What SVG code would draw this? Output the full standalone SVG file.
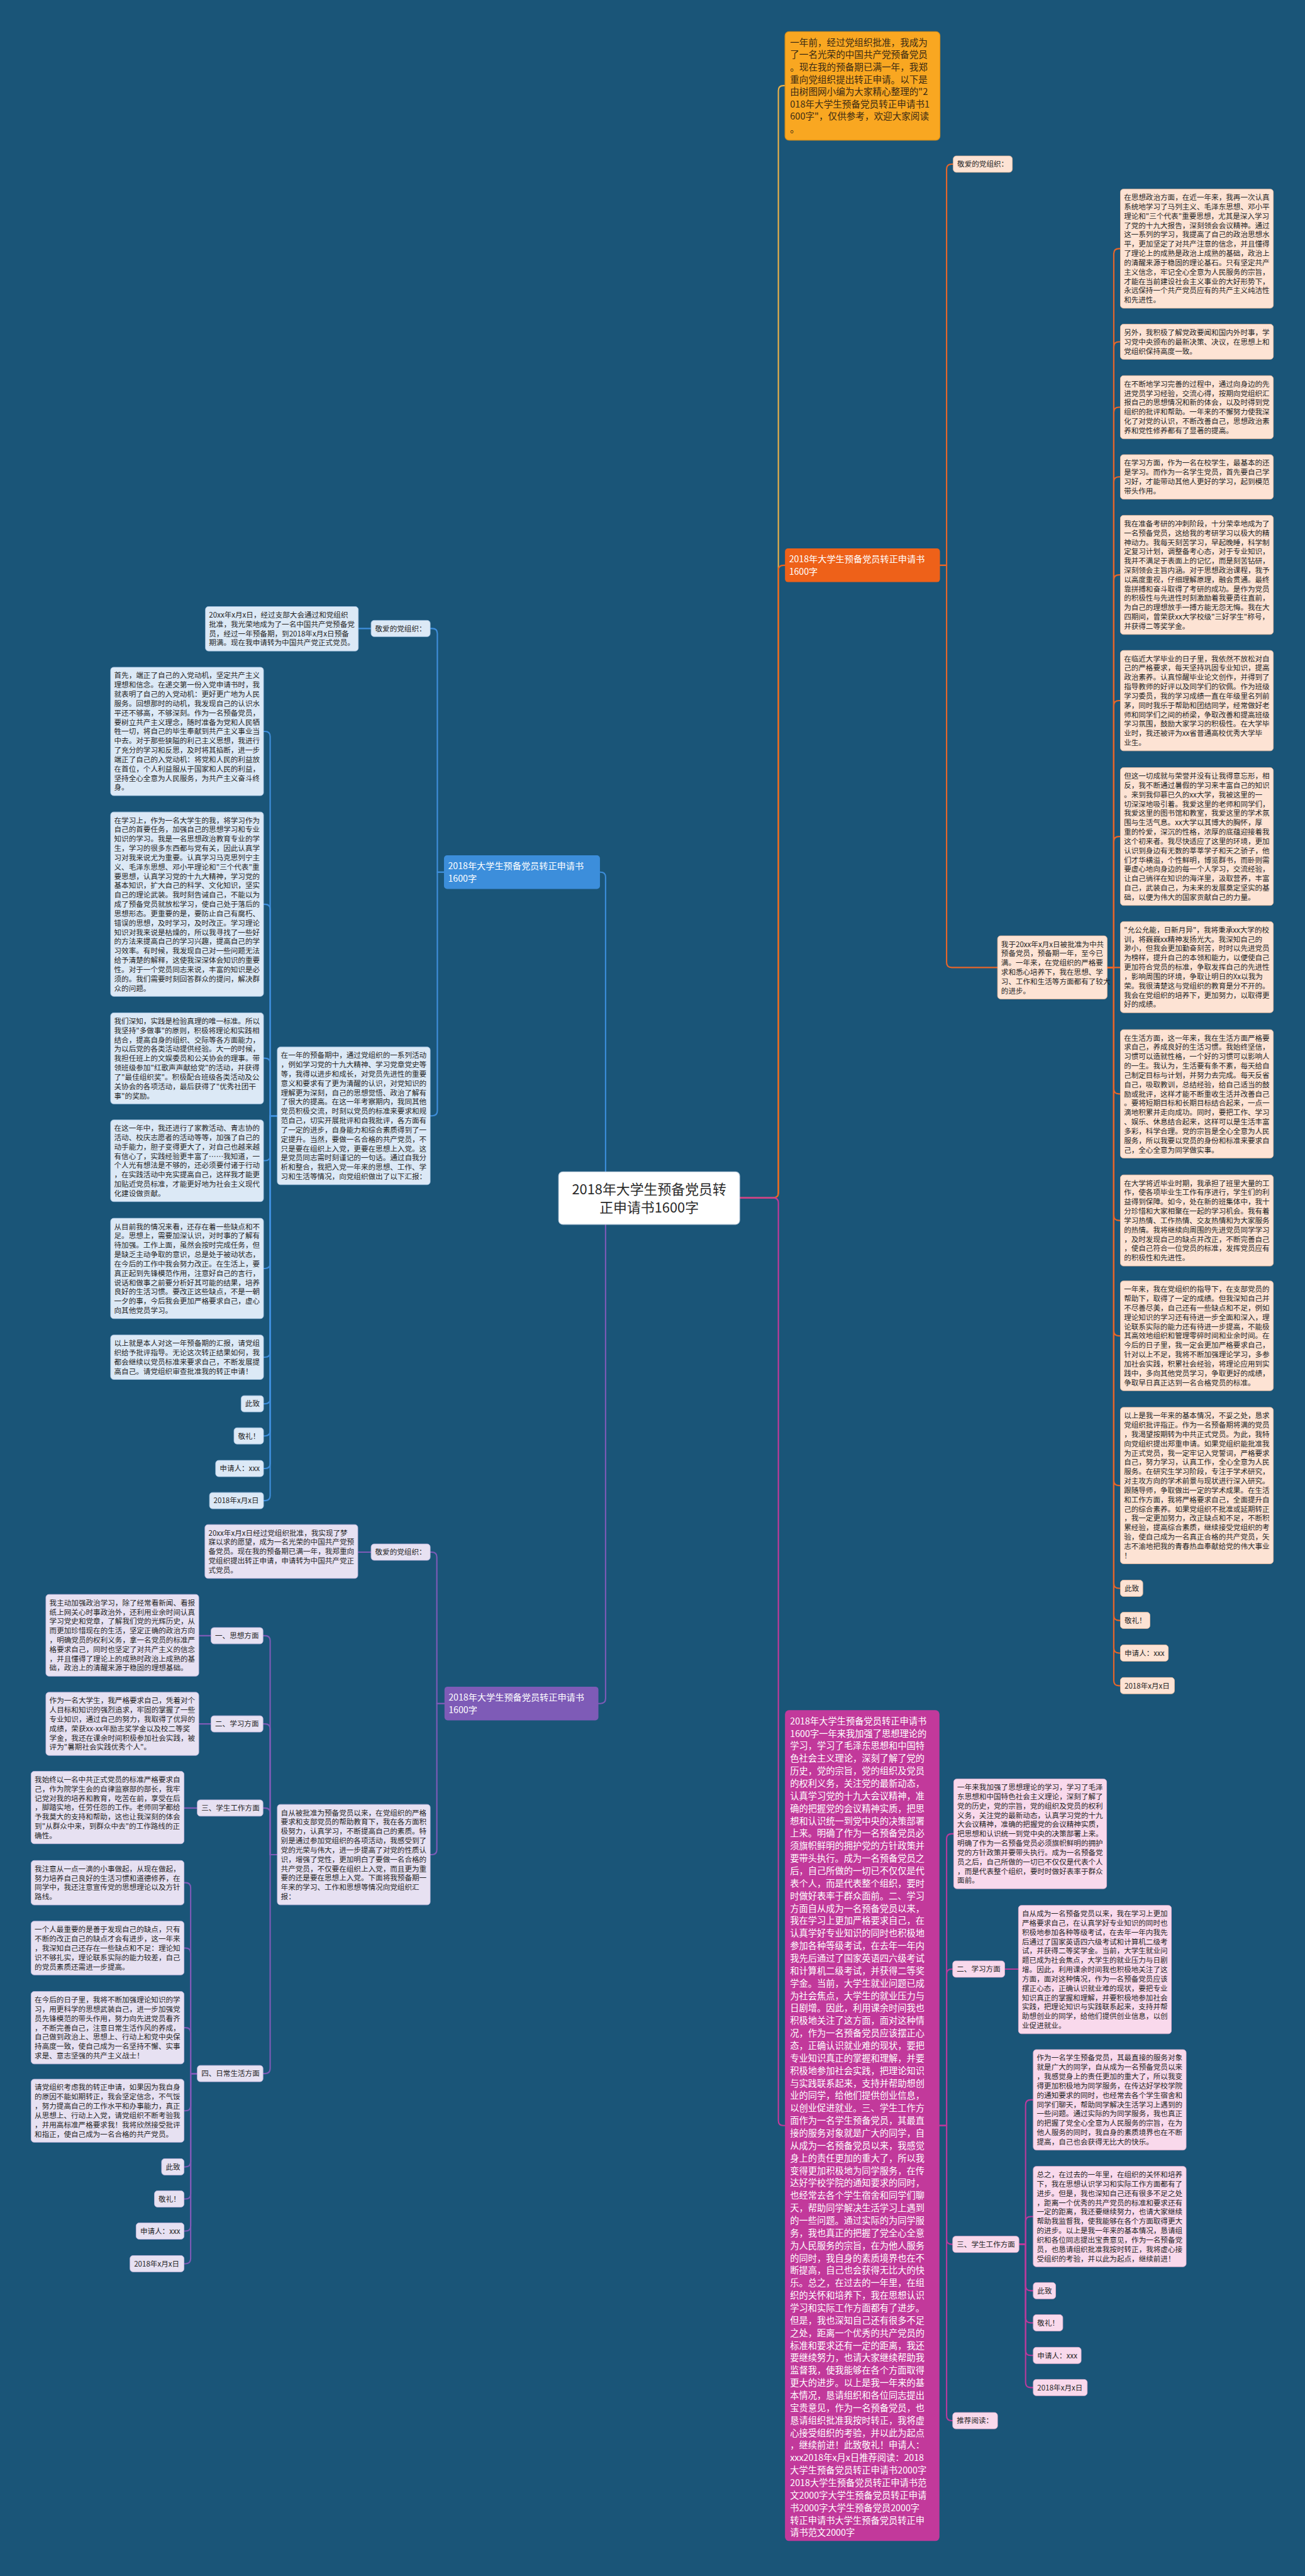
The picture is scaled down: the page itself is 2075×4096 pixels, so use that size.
<svg xmlns="http://www.w3.org/2000/svg" width="2075" height="4096" viewBox="0 0 2075 4096">
<style>
.t{font-family:"Noto Sans CJK SC","Noto Sans",sans-serif;font-size:14.3px;fill:#262626}
.tw{font-family:"Noto Sans CJK SC","Noto Sans",sans-serif;fill:#ffffff}
.nb{fill:#dce9f6;stroke:#aac6e4;stroke-width:1}
.no{fill:#fde3d4;stroke:#efbd9f;stroke-width:1}
.np{fill:#e7e1f2;stroke:#c5b8e0;stroke-width:1}
.nk{fill:#f9d9ec;stroke:#e2b0cf;stroke-width:1}
.c{fill:none;stroke-width:2.6;stroke-linecap:round;stroke-linejoin:round}
.cb{stroke:#3f8fdc}.co{stroke:#e8662a}.cp{stroke:#7e5bb7}.ck{stroke:#b93a9c}
</style>
<rect x="0" y="0" width="2075" height="4096" fill="#1a5578"/>
<g transform="scale(0.8105)">
<g id="connectors">
<path class="c" stroke="#e9b04a" d="M1451,2350 H1517 Q1527,2350 1527,2340 V178 Q1527,168 1537,168 H1540"/>
<path class="c" stroke="#ee6119" d="M1451,2350 H1517 Q1527,2350 1527,2340 V1119 Q1527,1109 1537,1109 H1540"/>
<path class="c" stroke="#c2399b" d="M1451,2350 H1517 Q1527,2350 1527,2360 V4160 Q1527,4170 1537,4170 H1540"/>
<path class="c" stroke="#3c8edb" d="M1188,2299 V1721 Q1188,1711 1178,1711 H1177"/>
<path class="c" stroke="#7e5bb7" d="M1188,2402 V3332 Q1188,3342 1178,3342 H1174"/>
<g class="c co">
<path d="M1844,1109 H1857 V332 Q1857,322 1867,322 H1870"/>
<path d="M1844,1109 H1857 V1888 Q1857,1898 1867,1898 H1957"/>
<path d="M2172,1898 H2185 V497.8 Q2185,487.8 2195,487.8 H2198"/>
<path d="M2172,1898 H2185 V680.5 Q2185,670.5 2195,670.5 H2198"/>
<path d="M2172,1898 H2185 V808.9 Q2185,798.9 2195,798.9 H2198"/>
<path d="M2172,1898 H2185 V945.6 Q2185,935.6 2195,935.6 H2198"/>
<path d="M2172,1898 H2185 V1137.8 Q2185,1127.8 2195,1127.8 H2198"/>
<path d="M2172,1898 H2185 V1384.5 Q2185,1374.5 2195,1374.5 H2198"/>
<path d="M2172,1898 H2185 V1651.1 Q2185,1641.1 2195,1641.1 H2198"/>
<path d="M2172,1898 H2198"/>
<path d="M2172,1898 H2185 V2136 Q2185,2146 2195,2146 H2198"/>
<path d="M2172,1898 H2185 V2384.4 Q2185,2394.4 2195,2394.4 H2198"/>
<path d="M2172,1898 H2185 V2610.7 Q2185,2620.7 2195,2620.7 H2198"/>
<path d="M2172,1898 H2185 V2904.4 Q2185,2914.4 2195,2914.4 H2198"/>
<path d="M2172,1898 H2185 V3106 Q2185,3116 2195,3116 H2198"/>
<path d="M2172,1898 H2185 V3169 Q2185,3179 2195,3179 H2198"/>
<path d="M2172,1898 H2185 V3233 Q2185,3243 2195,3243 H2198"/>
<path d="M2172,1898 H2185 V3297 Q2185,3307 2195,3307 H2198"/>
</g>
<g class="c cb">
<path d="M871,1711 H858 V1243 Q858,1233 848,1233 H844"/>
<path d="M871,1711 H858 V2179 Q858,2189 848,2189 H844"/>
<path d="M728,1233 H703"/>
<path d="M544,2189 H530 V1445 Q530,1435 520,1435 H517"/>
<path d="M544,2189 H530 V1784 Q530,1774 520,1774 H517"/>
<path d="M544,2189 H530 V2086 Q530,2076 520,2076 H517"/>
<path d="M544,2189 H530 V2267 Q530,2277 520,2277 H517"/>
<path d="M544,2189 H530 V2478.5 Q530,2488.5 520,2488.5 H517"/>
<path d="M544,2189 H530 V2652.6 Q530,2662.6 520,2662.6 H517"/>
<path d="M544,2189 H530 V2744 Q530,2754 520,2754 H517"/>
<path d="M544,2189 H530 V2807 Q530,2817 520,2817 H517"/>
<path d="M544,2189 H530 V2871 Q530,2881 520,2881 H517"/>
<path d="M544,2189 H530 V2934 Q530,2944 520,2944 H517"/>
</g>
<g class="c cp">
<path d="M872,3342 H857 V3055 Q857,3045 847,3045 H844"/>
<path d="M872,3342 H857 V3628.5 Q857,3638.5 847,3638.5 H844"/>
<path d="M728,3045 H702"/>
<path d="M544,3638.5 H530 V3219 Q530,3209 520,3209 H516"/>
<path d="M544,3638.5 H530 V3392 Q530,3382 520,3382 H516"/>
<path d="M544,3638.5 H530 V3557 Q530,3547 520,3547 H516"/>
<path d="M544,3638.5 H530 V4058 Q530,4068 520,4068 H516"/>
<path d="M414,3209 H390"/>
<path d="M414,3382 H390"/>
<path d="M387,3547 H361"/>
<path d="M387,4068 H374 V3703.6 Q374,3693.6 364,3693.6 H361"/>
<path d="M387,4068 H374 V3831.8 Q374,3821.8 364,3821.8 H361"/>
<path d="M387,4068 H374 V3988 Q374,3978 364,3978 H361"/>
<path d="M387,4068 H374 V4131 Q374,4141 364,4141 H361"/>
<path d="M387,4068 H374 V4241 Q374,4251 364,4251 H361"/>
<path d="M387,4068 H374 V4304 Q374,4314 364,4314 H361"/>
<path d="M387,4068 H374 V4367 Q374,4377 364,4377 H361"/>
<path d="M387,4068 H374 V4431 Q374,4441 364,4441 H361"/>
</g>
<g class="c ck">
<path d="M1843,4170 H1857 V3607.6 Q1857,3597.6 1867,3597.6 H1871"/>
<path d="M1843,4170 H1857 V3873 Q1857,3863 1867,3863 H1869"/>
<path d="M1843,4170 H1857 V4393 Q1857,4403 1867,4403 H1869"/>
<path d="M1843,4170 H1857 V4739 Q1857,4749 1867,4749 H1869"/>
<path d="M1971,3863 H1998"/>
<path d="M1999,4403 H2012 V4129.5 Q2012,4119.5 2022,4119.5 H2027"/>
<path d="M1999,4403 H2012 V4358.5 Q2012,4348.5 2022,4348.5 H2027"/>
<path d="M1999,4403 H2012 V4484 Q2012,4494 2022,4494 H2027"/>
<path d="M1999,4403 H2012 V4547 Q2012,4557 2022,4557 H2027"/>
<path d="M1999,4403 H2012 V4611 Q2012,4621 2022,4621 H2027"/>
<path d="M1999,4403 H2012 V4674 Q2012,4684 2022,4684 H2027"/>
</g>
</g>

<g id="root">
<rect x="1096" y="2299" width="355" height="103" rx="8" fill="#ffffff" stroke="#c9d6e3" stroke-width="1.5"/>
<text class="t" style="font-size:27px;fill:#2b2b2b" text-anchor="middle" x="1273.5" y="2343"><tspan x="1273.5" dy="0">2018年大学生预备党员转</tspan><tspan x="1273.5" dy="36">正申请书1600字</tspan></text>
</g>

<g id="intro">
<rect x="1540" y="62" width="304" height="213" rx="8" fill="#f9a721" stroke="#d98e16" stroke-width="1.5"/>
<text class="t" style="font-size:18px;fill:#3a2a14" x="1550" y="89.8"><tspan x="1550" dy="0">一年前，经过党组织批准，我成为</tspan><tspan x="1550" dy="24.2">了一名光荣的中国共产党预备党员</tspan><tspan x="1550" dy="24.2">。现在我的预备期已满一年，我郑</tspan><tspan x="1550" dy="24.2">重向党组织提出转正申请。以下是</tspan><tspan x="1550" dy="24.2">由树图网小编为大家精心整理的"2</tspan><tspan x="1550" dy="24.2">018年大学生预备党员转正申请书1</tspan><tspan x="1550" dy="24.2">600字"，仅供参考，欢迎大家阅读</tspan><tspan x="1550" dy="24.2">。</tspan></text>
</g>

<g id="branch-orange">
<rect x="1540" y="1076" width="304" height="66" rx="6" fill="#ee6119"/>
<text class="tw" style="font-size:17.5px" x="1548" y="1103.6"><tspan x="1548" dy="0">2018年大学生预备党员转正申请书</tspan><tspan x="1548" dy="24">1600字</tspan></text>
</g>
<g id="o-dear">
<rect class="no" x="1870" y="306" width="116" height="32" rx="6"/>
<text class="t" x="1878" y="327.4">敬爱的党组织：</text>
</g>
<g id="o-mid">
<rect class="no" x="1957" y="1836" width="215" height="123.8" rx="6"/>
<text class="t" x="1964" y="1857.5"><tspan x="1964" dy="0">我于20xx年x月x日被批准为中共</tspan><tspan x="1964" dy="18.3">预备党员，预备期一年，至今已</tspan><tspan x="1964" dy="18.3">满。一年来，在党组织的严格要</tspan><tspan x="1964" dy="18.3">求和悉心培养下，我在思想、学</tspan><tspan x="1964" dy="18.3">习、工作和生活等方面都有了较大</tspan><tspan x="1964" dy="18.3">的进步。</tspan></text>
</g>
<g id="o-a">
<rect class="no" x="2198" y="371" width="300" height="233.6" rx="6"/>
<text class="t" x="2205" y="392.5"><tspan x="2205" dy="0">在思想政治方面，在近一年来，我再一次认真</tspan><tspan x="2205" dy="18.3">系统地学习了马列主义、毛泽东思想、邓小平</tspan><tspan x="2205" dy="18.3">理论和"三个代表"重要思想，尤其是深入学习</tspan><tspan x="2205" dy="18.3">了党的十九大报告，深刻领会会议精神。通过</tspan><tspan x="2205" dy="18.3">这一系列的学习，我提高了自己的政治思想水</tspan><tspan x="2205" dy="18.3">平，更加坚定了对共产注意的信念，并且懂得</tspan><tspan x="2205" dy="18.3">了理论上的成熟是政治上成熟的基础，政治上</tspan><tspan x="2205" dy="18.3">的清醒来源于稳固的理论基石。只有坚定共产</tspan><tspan x="2205" dy="18.3">主义信念，牢记全心全意为人民服务的宗旨，</tspan><tspan x="2205" dy="18.3">才能在当前建设社会主义事业的大好形势下，</tspan><tspan x="2205" dy="18.3">永远保持一个共产党员应有的共产主义纯洁性</tspan><tspan x="2205" dy="18.3">和先进性。</tspan></text>
</g>
<g id="o-b">
<rect class="no" x="2198" y="636" width="300" height="68.9" rx="6"/>
<text class="t" x="2205" y="657.5"><tspan x="2205" dy="0">另外，我积极了解党政要闻和国内外时事，学</tspan><tspan x="2205" dy="18.3">习党中央颁布的最新决策、决议，在思想上和</tspan><tspan x="2205" dy="18.3">党组织保持高度一致。</tspan></text>
</g>
<g id="o-c">
<rect class="no" x="2198" y="737" width="300" height="123.8" rx="6"/>
<text class="t" x="2205" y="758.5"><tspan x="2205" dy="0">在不断地学习完善的过程中，通过向身边的先</tspan><tspan x="2205" dy="18.3">进党员学习经验，交流心得，按期向党组织汇</tspan><tspan x="2205" dy="18.3">报自己的思想情况和新的体会，以及时得到党</tspan><tspan x="2205" dy="18.3">组织的批评和帮助。一年来的不懈努力使我深</tspan><tspan x="2205" dy="18.3">化了对党的认识，不断改善自己，思想政治素</tspan><tspan x="2205" dy="18.3">养和党性修养都有了显著的提高。</tspan></text>
</g>
<g id="o-d">
<rect class="no" x="2198" y="892" width="300" height="87.2" rx="6"/>
<text class="t" x="2205" y="913.5"><tspan x="2205" dy="0">在学习方面，作为一名在校学生，最基本的还</tspan><tspan x="2205" dy="18.3">是学习。而作为一名学生党员，首先要自己学</tspan><tspan x="2205" dy="18.3">习好，才能带动其他人更好的学习，起到模范</tspan><tspan x="2205" dy="18.3">带头作用。</tspan></text>
</g>
<g id="o-e">
<rect class="no" x="2198" y="1011" width="300" height="233.6" rx="6"/>
<text class="t" x="2205" y="1032.5"><tspan x="2205" dy="0">我在准备考研的冲刺阶段，十分荣幸地成为了</tspan><tspan x="2205" dy="18.3">一名预备党员，这给我的考研学习以极大的精</tspan><tspan x="2205" dy="18.3">神动力。我每天刻苦学习，早起晚睡，科学制</tspan><tspan x="2205" dy="18.3">定复习计划，调整备考心态，对于专业知识，</tspan><tspan x="2205" dy="18.3">我并不满足于表面上的记忆，而是刻苦钻研，</tspan><tspan x="2205" dy="18.3">深刻领会主旨内涵。对于思想政治课程，我予</tspan><tspan x="2205" dy="18.3">以高度重视，仔细理解原理，融会贯通。最终</tspan><tspan x="2205" dy="18.3">靠拼搏和奋斗取得了考研的成功。是作为党员</tspan><tspan x="2205" dy="18.3">的积极性与先进性时刻激励着我要勇往直前，</tspan><tspan x="2205" dy="18.3">为自己的理想放手一搏方能无怨无悔。我在大</tspan><tspan x="2205" dy="18.3">四期间，曾荣获xx大学校级"三好学生"称号，</tspan><tspan x="2205" dy="18.3">并获得二等奖学金。</tspan></text>
</g>
<g id="o-f">
<rect class="no" x="2198" y="1276" width="300" height="197" rx="6"/>
<text class="t" x="2205" y="1297.5"><tspan x="2205" dy="0">在临近大学毕业的日子里，我依然不放松对自</tspan><tspan x="2205" dy="18.3">己的严格要求，每天坚持巩固专业知识，提高</tspan><tspan x="2205" dy="18.3">政治素养。认真惊醒毕业论文创作，并得到了</tspan><tspan x="2205" dy="18.3">指导教师的好评以及同学们的钦佩。作为班级</tspan><tspan x="2205" dy="18.3">学习委员，我的学习成绩一直在年级里名列前</tspan><tspan x="2205" dy="18.3">茅，同时我乐于帮助和团结同学，经常做好老</tspan><tspan x="2205" dy="18.3">师和同学们之间的桥梁，争取改善和提高班级</tspan><tspan x="2205" dy="18.3">学习氛围，鼓励大家学习的积极性。在大学毕</tspan><tspan x="2205" dy="18.3">业时，我还被评为xx省普通高校优秀大学毕</tspan><tspan x="2205" dy="18.3">业生。</tspan></text>
</g>
<g id="o-g">
<rect class="no" x="2198" y="1506" width="300" height="270.2" rx="6"/>
<text class="t" x="2205" y="1527.5"><tspan x="2205" dy="0">但这一切成就与荣誉并没有让我得意忘形，相</tspan><tspan x="2205" dy="18.3">反，我不断通过暑假的学习来丰富自己的知识</tspan><tspan x="2205" dy="18.3">。来到我仰慕已久的xx大学，我被这里的一</tspan><tspan x="2205" dy="18.3">切深深地吸引着。我爱这里的老师和同学们，</tspan><tspan x="2205" dy="18.3">我爱这里的图书馆和教室，我爱这里的学术氛</tspan><tspan x="2205" dy="18.3">围与生活气息。xx大学以其博大的胸怀，厚</tspan><tspan x="2205" dy="18.3">重的怜爱，深沉的性格，浓厚的底蕴迎接着我</tspan><tspan x="2205" dy="18.3">这个初来者。我尽快适应了这里的环境，更加</tspan><tspan x="2205" dy="18.3">认识到身边有无数的莘莘学子和天之骄子，他</tspan><tspan x="2205" dy="18.3">们才华横溢，个性鲜明，博览群书，而卧则需</tspan><tspan x="2205" dy="18.3">要虚心地向身边的每一个人学习，交流经验，</tspan><tspan x="2205" dy="18.3">让自己徜徉在知识的海洋里，汲取营养，丰富</tspan><tspan x="2205" dy="18.3">自己，武装自己，为未来的发展奠定坚实的基</tspan><tspan x="2205" dy="18.3">础，以便为伟大的国家贡献自己的力量。</tspan></text>
</g>
<g id="o-h">
<rect class="no" x="2198" y="1808" width="300" height="178.7" rx="6"/>
<text class="t" x="2205" y="1829.5"><tspan x="2205" dy="0">"允公允能，日新月异"，我将秉承xx大学的校</tspan><tspan x="2205" dy="18.3">训，将巍巍xx精神发扬光大。我深知自己的</tspan><tspan x="2205" dy="18.3">渺小，但我会更加勤奋刻苦，时时以先进党员</tspan><tspan x="2205" dy="18.3">为榜样，提升自己的本领和能力，以便使自己</tspan><tspan x="2205" dy="18.3">更加符合党员的标准，争取发挥自己的先进性</tspan><tspan x="2205" dy="18.3">，影响周围的环境，争取让明日的Xx以我为</tspan><tspan x="2205" dy="18.3">荣。我很清楚这与党组织的教育是分不开的。</tspan><tspan x="2205" dy="18.3">我会在党组织的培养下，更加努力，以取得更</tspan><tspan x="2205" dy="18.3">好的成绩。</tspan></text>
</g>
<g id="o-i">
<rect class="no" x="2198" y="2020" width="300" height="251.9" rx="6"/>
<text class="t" x="2205" y="2041.5"><tspan x="2205" dy="0">在生活方面，这一年来，我在生活方面严格要</tspan><tspan x="2205" dy="18.3">求自己，养成良好的生活习惯。我始终坚信，</tspan><tspan x="2205" dy="18.3">习惯可以造就性格，一个好的习惯可以影响人</tspan><tspan x="2205" dy="18.3">的一生。我认为，生活要有条不紊，每天给自</tspan><tspan x="2205" dy="18.3">己制定目标与计划，并努力去完成。每天反省</tspan><tspan x="2205" dy="18.3">自己，吸取教训，总结经验，给自己适当的鼓</tspan><tspan x="2205" dy="18.3">励或批评，这样才能不断重收生活并改善自己</tspan><tspan x="2205" dy="18.3">。要将短期目标和长期目标结合起来，一点一</tspan><tspan x="2205" dy="18.3">滴地积累并走向成功。同时，要把工作、学习</tspan><tspan x="2205" dy="18.3">、娱乐、休息结合起来，这样可以是生活丰富</tspan><tspan x="2205" dy="18.3">多彩，科学合理。党的宗旨是全心全意为人民</tspan><tspan x="2205" dy="18.3">服务，所以我要以党员的身份和标准来要求自</tspan><tspan x="2205" dy="18.3">己，全心全意为同学做实事。</tspan></text>
</g>
<g id="o-j">
<rect class="no" x="2198" y="2305" width="300" height="178.7" rx="6"/>
<text class="t" x="2205" y="2326.5"><tspan x="2205" dy="0">在大学将近毕业时期，我承担了班里大量的工</tspan><tspan x="2205" dy="18.3">作，使各项毕业生工作有序进行，学生们的利</tspan><tspan x="2205" dy="18.3">益得到保障。如今，处在新的班集体中，我十</tspan><tspan x="2205" dy="18.3">分珍惜和大家相聚在一起的学习机会。我有着</tspan><tspan x="2205" dy="18.3">学习热情、工作热情、交友热情和为大家服务</tspan><tspan x="2205" dy="18.3">的热情。我将继续向周围的先进党员同学学习</tspan><tspan x="2205" dy="18.3">，及时发现自己的缺点并改正，不断完善自己</tspan><tspan x="2205" dy="18.3">，使自己符合一位党员的标准，发挥党员应有</tspan><tspan x="2205" dy="18.3">的积极性和先进性。</tspan></text>
</g>
<g id="o-k">
<rect class="no" x="2198" y="2513" width="300" height="215.3" rx="6"/>
<text class="t" x="2205" y="2534.5"><tspan x="2205" dy="0">一年来，我在党组织的指导下，在支部党员的</tspan><tspan x="2205" dy="18.3">帮助下，取得了一定的成绩。但我深知自己并</tspan><tspan x="2205" dy="18.3">不尽善尽美，自己还有一些缺点和不足，例如</tspan><tspan x="2205" dy="18.3">理论知识的学习还有待进一步全面和深入，理</tspan><tspan x="2205" dy="18.3">论联系实际的能力还有待进一步提高，不能极</tspan><tspan x="2205" dy="18.3">其高效地组织和管理零碎时间和业余时间。在</tspan><tspan x="2205" dy="18.3">今后的日子里，我一定会更加严格要求自己，</tspan><tspan x="2205" dy="18.3">针对以上不足，我将不断加强理论学习，多参</tspan><tspan x="2205" dy="18.3">加社会实践，积累社会经验，将理论应用到实</tspan><tspan x="2205" dy="18.3">践中，多向其他党员学习，争取更好的成绩，</tspan><tspan x="2205" dy="18.3">争取早日真正达到一名合格党员的标准。</tspan></text>
</g>
<g id="o-l">
<rect class="no" x="2198" y="2761" width="300" height="306.8" rx="6"/>
<text class="t" x="2205" y="2782.5"><tspan x="2205" dy="0">以上是我一年来的基本情况，不妥之处，恳求</tspan><tspan x="2205" dy="18.3">党组织批评指正。作为一名预备期将满的党员</tspan><tspan x="2205" dy="18.3">，我渴望按期转为中共正式党员。为此，我特</tspan><tspan x="2205" dy="18.3">向党组织提出郑重申请。如果党组织能批准我</tspan><tspan x="2205" dy="18.3">为正式党员，我一定牢记入党誓词，严格要求</tspan><tspan x="2205" dy="18.3">自己，努力学习，认真工作，全心全意为人民</tspan><tspan x="2205" dy="18.3">服务。在研究生学习阶段，专注于学术研究，</tspan><tspan x="2205" dy="18.3">对主攻方向的学术前景与现状进行深入研究。</tspan><tspan x="2205" dy="18.3">跟随导师，争取做出一定的学术成果。在生活</tspan><tspan x="2205" dy="18.3">和工作方面，我将严格要求自己，全面提升自</tspan><tspan x="2205" dy="18.3">己的综合素养。如果党组织不批准或延期转正</tspan><tspan x="2205" dy="18.3">，我一定更加努力，改正缺点和不足，不断积</tspan><tspan x="2205" dy="18.3">累经验，提高综合素质，继续接受党组织的考</tspan><tspan x="2205" dy="18.3">验，使自己成为一名真正合格的共产党员，矢</tspan><tspan x="2205" dy="18.3">志不渝地把我的青春热血奉献给党的伟大事业</tspan><tspan x="2205" dy="18.3">！</tspan></text>
</g>
<g id="o-cz"><rect class="no" x="2198" y="3100" width="44" height="32" rx="6"/><text class="t" x="2206" y="3121.4">此致</text></g>
<g id="o-jl"><rect class="no" x="2198" y="3163" width="58" height="32" rx="6"/><text class="t" x="2206" y="3184.4">敬礼！</text></g>
<g id="o-sq"><rect class="no" x="2198" y="3227" width="94" height="32" rx="6"/><text class="t" x="2206" y="3248.4">申请人：xxx</text></g>
<g id="o-dt"><rect class="no" x="2198" y="3291" width="106" height="32" rx="6"/><text class="t" x="2206" y="3312.4">2018年x月x日</text></g>

<g id="branch-blue">
<rect x="871" y="1678" width="306" height="66" rx="6" fill="#3c8edb"/>
<text class="tw" style="font-size:17.5px" x="879" y="1705.6"><tspan x="879" dy="0">2018年大学生预备党员转正申请书</tspan><tspan x="879" dy="24">1600字</tspan></text>
</g>
<g id="b-dear"><rect class="nb" x="728" y="1217" width="116" height="32" rx="6"/><text class="t" x="736" y="1238.4">敬爱的党组织：</text></g>
<g id="b-intro">
<rect class="nb" x="403" y="1190" width="300" height="87.2" rx="6"/>
<text class="t" x="410" y="1211.5"><tspan x="410" dy="0">20xx年x月x日，经过支部大会通过和党组织</tspan><tspan x="410" dy="18.3">批准，我光荣地成为了一名中国共产党预备党</tspan><tspan x="410" dy="18.3">员，经过一年预备期，到2018年x月x日预备</tspan><tspan x="410" dy="18.3">期满。现在我申请转为中国共产党正式党员。</tspan></text>
</g>
<g id="b-mid">
<rect class="nb" x="544" y="2054" width="300" height="270.2" rx="6"/>
<text class="t" x="551" y="2075.5"><tspan x="551" dy="0">在一年的预备期中，通过党组织的一系列活动</tspan><tspan x="551" dy="18.3">，例如学习党的十九大精神、学习党章党史等</tspan><tspan x="551" dy="18.3">等，我得以进步和成长，对党员先进性的重要</tspan><tspan x="551" dy="18.3">意义和要求有了更为清醒的认识，对党知识的</tspan><tspan x="551" dy="18.3">理解更为深刻，自己的思想觉悟、政治了解有</tspan><tspan x="551" dy="18.3">了很大的提高。在这一年考察期内，我同其他</tspan><tspan x="551" dy="18.3">党员积极交流，时刻以党员的标准来要求和规</tspan><tspan x="551" dy="18.3">范自己，切实开展批评和自我批评，各方面有</tspan><tspan x="551" dy="18.3">了一定的进步，自身能力和综合素质得到了一</tspan><tspan x="551" dy="18.3">定提升。当然，要做一名合格的共产党员，不</tspan><tspan x="551" dy="18.3">只是要在组织上入党，更要在思想上入党。这</tspan><tspan x="551" dy="18.3">是党员同志需时刻谨记的一句话。通过自我分</tspan><tspan x="551" dy="18.3">析和整合，我把入党一年来的思想、工作、学</tspan><tspan x="551" dy="18.3">习和生活等情况，向党组织做出了以下汇报：</tspan></text>
</g>
<g id="b-p1">
<rect class="nb" x="217" y="1309" width="300" height="251.9" rx="6"/>
<text class="t" x="224" y="1330.5"><tspan x="224" dy="0">首先，端正了自己的入党动机，坚定共产主义</tspan><tspan x="224" dy="18.3">理想和信念。在递交第一份入党申请书时，我</tspan><tspan x="224" dy="18.3">就表明了自己的入党动机：更好更广地为人民</tspan><tspan x="224" dy="18.3">服务。回想那时的动机，我发现自己的认识水</tspan><tspan x="224" dy="18.3">平还不够高，不够深刻。作为一名预备党员，</tspan><tspan x="224" dy="18.3">要树立共产主义理念，随时准备为党和人民牺</tspan><tspan x="224" dy="18.3">牲一切，将自己的毕生奉献到共产主义事业当</tspan><tspan x="224" dy="18.3">中去。对于那些狭隘的利己主义思想，我进行</tspan><tspan x="224" dy="18.3">了充分的学习和反思，及时将其掐断，进一步</tspan><tspan x="224" dy="18.3">端正了自己的入党动机：将党和人民的利益放</tspan><tspan x="224" dy="18.3">在首位，个人利益服从于国家和人民的利益，</tspan><tspan x="224" dy="18.3">坚持全心全意为人民服务，为共产主义奋斗终</tspan><tspan x="224" dy="18.3">身。</tspan></text>
</g>
<g id="b-p2">
<rect class="nb" x="217" y="1593" width="300" height="361.7" rx="6"/>
<text class="t" x="224" y="1614.5"><tspan x="224" dy="0">在学习上，作为一名大学生的我，将学习作为</tspan><tspan x="224" dy="18.3">自己的首要任务，加强自己的思想学习和专业</tspan><tspan x="224" dy="18.3">知识的学习。我是一名思想政治教育专业的学</tspan><tspan x="224" dy="18.3">生，学习的很多东西都与党有关，因此认真学</tspan><tspan x="224" dy="18.3">习对我来说尤为重要。认真学习马克思列宁主</tspan><tspan x="224" dy="18.3">义、毛泽东思想、邓小平理论和"三个代表"重</tspan><tspan x="224" dy="18.3">要思想，认真学习党的十九大精神，学习党的</tspan><tspan x="224" dy="18.3">基本知识，扩大自己的科学、文化知识，坚实</tspan><tspan x="224" dy="18.3">自己的理论武装。我时刻告诫自己，不能以为</tspan><tspan x="224" dy="18.3">成了预备党员就放松学习，使自己处于落后的</tspan><tspan x="224" dy="18.3">思想形态。更重要的是，要防止自己有腐朽、</tspan><tspan x="224" dy="18.3">错误的思想，及时学习，及时改正。学习理论</tspan><tspan x="224" dy="18.3">知识对我来说是枯燥的，所以我寻找了一些好</tspan><tspan x="224" dy="18.3">的方法来提高自己的学习兴趣，提高自己的学</tspan><tspan x="224" dy="18.3">习效率。有时候，我发现自己对一些问题无法</tspan><tspan x="224" dy="18.3">给予清楚的解释，这使我深深体会知识的重要</tspan><tspan x="224" dy="18.3">性。对于一个党员同志来说，丰富的知识是必</tspan><tspan x="224" dy="18.3">须的。我们需要时刻回答群众的提问，解决群</tspan><tspan x="224" dy="18.3">众的问题。</tspan></text>
</g>
<g id="b-p3">
<rect class="nb" x="217" y="1987" width="300" height="178.7" rx="6"/>
<text class="t" x="224" y="2008.5"><tspan x="224" dy="0">我们深知，实践是检验真理的唯一标准。所以</tspan><tspan x="224" dy="18.3">我坚持"多做事"的原则，积极将理论和实践相</tspan><tspan x="224" dy="18.3">结合，提高自身的组织、交际等各方面能力，</tspan><tspan x="224" dy="18.3">为以后党的各类活动提供经验。大一的时候，</tspan><tspan x="224" dy="18.3">我担任班上的文娱委员和公关协会的理事。带</tspan><tspan x="224" dy="18.3">领班级参加"红歌声声献给党"的活动，并获得</tspan><tspan x="224" dy="18.3">了"最佳组织奖"。积极配合班级各类活动及公</tspan><tspan x="224" dy="18.3">关协会的各项活动，最后获得了"优秀社团干</tspan><tspan x="224" dy="18.3">事"的奖励。</tspan></text>
</g>
<g id="b-p4">
<rect class="nb" x="217" y="2197" width="300" height="160.4" rx="6"/>
<text class="t" x="224" y="2218.5"><tspan x="224" dy="0">在这一年中，我还进行了家教活动、青志协的</tspan><tspan x="224" dy="18.3">活动、校庆志愿者的活动等等，加强了自己的</tspan><tspan x="224" dy="18.3">动手能力，胆子变得更大了，对自己也越来越</tspan><tspan x="224" dy="18.3">有信心了，实践经验更丰富了……我知道，一</tspan><tspan x="224" dy="18.3">个人光有想法是不够的，还必须要付诸于行动</tspan><tspan x="224" dy="18.3">，在实践活动中充实提高自己，这样我才能更</tspan><tspan x="224" dy="18.3">加贴近党员标准，才能更好地为社会主义现代</tspan><tspan x="224" dy="18.3">化建设做贡献。</tspan></text>
</g>
<g id="b-p5">
<rect class="nb" x="217" y="2390" width="300" height="197" rx="6"/>
<text class="t" x="224" y="2411.5"><tspan x="224" dy="0">从目前我的情况来看，还存在着一些缺点和不</tspan><tspan x="224" dy="18.3">足。思想上，需要加深认识，对时事的了解有</tspan><tspan x="224" dy="18.3">待加强。工作上面，虽然会按时完成任务，但</tspan><tspan x="224" dy="18.3">是缺乏主动争取的意识，总是处于被动状态，</tspan><tspan x="224" dy="18.3">在今后的工作中我会努力改正。在生活上，要</tspan><tspan x="224" dy="18.3">真正起到先锋模范作用，注意好自己的言行，</tspan><tspan x="224" dy="18.3">说话和做事之前要分析好其可能的结果，培养</tspan><tspan x="224" dy="18.3">良好的生活习惯。要改正这些缺点，不是一朝</tspan><tspan x="224" dy="18.3">一夕的事，今后我会更加严格要求自己，虚心</tspan><tspan x="224" dy="18.3">向其他党员学习。</tspan></text>
</g>
<g id="b-p6">
<rect class="nb" x="217" y="2619" width="300" height="87.2" rx="6"/>
<text class="t" x="224" y="2640.5"><tspan x="224" dy="0">以上就是本人对这一年预备期的汇报，请党组</tspan><tspan x="224" dy="18.3">织给予批评指导。无论这次转正结果如何，我</tspan><tspan x="224" dy="18.3">都会继续以党员标准来要求自己，不断发展提</tspan><tspan x="224" dy="18.3">高自己。请党组织审查批准我的转正申请！</tspan></text>
</g>
<g id="b-cz"><rect class="nb" x="473" y="2738" width="44" height="32" rx="6"/><text class="t" x="481" y="2759.4">此致</text></g>
<g id="b-jl"><rect class="nb" x="459" y="2801" width="58" height="32" rx="6"/><text class="t" x="467" y="2822.4">敬礼！</text></g>
<g id="b-sq"><rect class="nb" x="423" y="2865" width="94" height="32" rx="6"/><text class="t" x="431" y="2886.4">申请人：xxx</text></g>
<g id="b-dt"><rect class="nb" x="411" y="2928" width="106" height="32" rx="6"/><text class="t" x="419" y="2949.4">2018年x月x日</text></g>

<g id="branch-purple">
<rect x="872" y="3309" width="302" height="66" rx="6" fill="#7e5bb7"/>
<text class="tw" style="font-size:17.5px" x="880" y="3336.6"><tspan x="880" dy="0">2018年大学生预备党员转正申请书</tspan><tspan x="880" dy="24">1600字</tspan></text>
</g>
<g id="p-dear"><rect class="np" x="728" y="3029" width="116" height="32" rx="6"/><text class="t" x="736" y="3050.4">敬爱的党组织：</text></g>
<g id="p-intro">
<rect class="np" x="402" y="2991" width="300" height="105.5" rx="6"/>
<text class="t" x="409" y="3012.5"><tspan x="409" dy="0">20xx年x月x日经过党组织批准，我实现了梦</tspan><tspan x="409" dy="18.3">寐以求的愿望，成为一名光荣的中国共产党预</tspan><tspan x="409" dy="18.3">备党员。现在我的预备期已满一年，我郑重向</tspan><tspan x="409" dy="18.3">党组织提出转正申请，申请转为中国共产党正</tspan><tspan x="409" dy="18.3">式党员。</tspan></text>
</g>
<g id="p-mid">
<rect class="np" x="544" y="3540" width="300" height="197" rx="6"/>
<text class="t" x="551" y="3561.5"><tspan x="551" dy="0">自从被批准为预备党员以来，在党组织的严格</tspan><tspan x="551" dy="18.3">要求和支部党员的帮助教育下，我在各方面积</tspan><tspan x="551" dy="18.3">极努力，认真学习，不断提高自己的素质。特</tspan><tspan x="551" dy="18.3">别是通过参加党组织的各项活动，我感受到了</tspan><tspan x="551" dy="18.3">党的光荣与伟大，进一步提高了对党的性质认</tspan><tspan x="551" dy="18.3">识，增强了党性，更加明白了要做一名合格的</tspan><tspan x="551" dy="18.3">共产党员，不仅要在组织上入党，而且更为重</tspan><tspan x="551" dy="18.3">要的还是要在思想上入党。下面将我预备期一</tspan><tspan x="551" dy="18.3">年来的学习、工作和思想等情况向党组织汇</tspan><tspan x="551" dy="18.3">报：</tspan></text>
</g>
<g id="p-l1"><rect class="np" x="414" y="3193" width="102" height="32" rx="6"/><text class="t" x="422" y="3214.4">一、思想方面</text></g>
<g id="p-l2"><rect class="np" x="414" y="3366" width="102" height="32" rx="6"/><text class="t" x="422" y="3387.4">二、学习方面</text></g>
<g id="p-l3"><rect class="np" x="387" y="3531" width="129" height="32" rx="6"/><text class="t" x="395" y="3552.4">三、学生工作方面</text></g>
<g id="p-l4"><rect class="np" x="387" y="4052" width="129" height="32" rx="6"/><text class="t" x="395" y="4073.4">四、日常生活方面</text></g>
<g id="p-s1">
<rect class="np" x="90" y="3128" width="300" height="160.4" rx="6"/>
<text class="t" x="97" y="3149.5"><tspan x="97" dy="0">我主动加强政治学习，除了经常看新闻、看报</tspan><tspan x="97" dy="18.3">纸上网关心时事政治外，还利用业余时间认真</tspan><tspan x="97" dy="18.3">学习党史和党章，了解我们党的光辉历史，从</tspan><tspan x="97" dy="18.3">而更加珍惜现在的生活，坚定正确的政治方向</tspan><tspan x="97" dy="18.3">，明确党员的权利义务，拿一名党员的标准严</tspan><tspan x="97" dy="18.3">格要求自己，同时也坚定了对共产主义的信念</tspan><tspan x="97" dy="18.3">，并且懂得了理论上的成熟时政治上成熟的基</tspan><tspan x="97" dy="18.3">础，政治上的清醒来源于稳固的理想基础。</tspan></text>
</g>
<g id="p-s2">
<rect class="np" x="90" y="3320" width="300" height="123.8" rx="6"/>
<text class="t" x="97" y="3341.5"><tspan x="97" dy="0">作为一名大学生，我严格要求自己，凭着对个</tspan><tspan x="97" dy="18.3">人目标和知识的强烈追求，牢固的掌握了一些</tspan><tspan x="97" dy="18.3">专业知识，通过自己的努力，我取得了优异的</tspan><tspan x="97" dy="18.3">成绩，荣获xx-xx年励志奖学金以及校二等奖</tspan><tspan x="97" dy="18.3">学金，我还在课余时间积极参加社会实践，被</tspan><tspan x="97" dy="18.3">评为"暑期社会实践优秀个人"。</tspan></text>
</g>
<g id="p-s3">
<rect class="np" x="61" y="3475" width="300" height="142.1" rx="6"/>
<text class="t" x="68" y="3496.5"><tspan x="68" dy="0">我始终以一名中共正式党员的标准严格要求自</tspan><tspan x="68" dy="18.3">己，作为院学生会的自律监察部的部长，我牢</tspan><tspan x="68" dy="18.3">记党对我的培养和教育，吃苦在前，享受在后</tspan><tspan x="68" dy="18.3">，脚踏实地，任劳任怨的工作。老师同学都给</tspan><tspan x="68" dy="18.3">予我莫大的支持和帮助，这也让我深刻的体会</tspan><tspan x="68" dy="18.3">到"从群众中来，到群众中去"的工作路线的正</tspan><tspan x="68" dy="18.3">确性。</tspan></text>
</g>
<g id="p-q1">
<rect class="np" x="61" y="3650" width="300" height="87.2" rx="6"/>
<text class="t" x="68" y="3671.5"><tspan x="68" dy="0">我注意从一点一滴的小事做起，从现在做起，</tspan><tspan x="68" dy="18.3">努力培养自己良好的生活习惯和道德修养，在</tspan><tspan x="68" dy="18.3">同学中，我还注意宣传党的思想理论以及方针</tspan><tspan x="68" dy="18.3">路线。</tspan></text>
</g>
<g id="p-q2">
<rect class="np" x="61" y="3769" width="300" height="105.5" rx="6"/>
<text class="t" x="68" y="3790.5"><tspan x="68" dy="0">一个人最重要的是善于发现自己的缺点，只有</tspan><tspan x="68" dy="18.3">不断的改正自己的缺点才会有进步，这一年来</tspan><tspan x="68" dy="18.3">，我深知自己还存在一些缺点和不足：理论知</tspan><tspan x="68" dy="18.3">识不够扎实，理论联系实际的能力较差，自己</tspan><tspan x="68" dy="18.3">的党员素质还需进一步提高。</tspan></text>
</g>
<g id="p-q3">
<rect class="np" x="61" y="3907" width="300" height="142.1" rx="6"/>
<text class="t" x="68" y="3928.5"><tspan x="68" dy="0">在今后的日子里，我将不断加强理论知识的学</tspan><tspan x="68" dy="18.3">习，用更科学的思想武装自己，进一步加强党</tspan><tspan x="68" dy="18.3">员先锋模范的带头作用，努力向先进党员看齐</tspan><tspan x="68" dy="18.3">，不断完善自己，注意日常生活作风的养成，</tspan><tspan x="68" dy="18.3">自己做到政治上、思想上、行动上和党中央保</tspan><tspan x="68" dy="18.3">持高度一致，使自己成为一名坚持不懈、实事</tspan><tspan x="68" dy="18.3">求是、意志坚强的共产主义战士！</tspan></text>
</g>
<g id="p-q4">
<rect class="np" x="61" y="4079" width="300" height="123.8" rx="6"/>
<text class="t" x="68" y="4100.5"><tspan x="68" dy="0">请党组织考虑我的转正申请，如果因为我自身</tspan><tspan x="68" dy="18.3">的原因不能如期转正，我会坚定信念，不气馁</tspan><tspan x="68" dy="18.3">，努力提高自己的工作水平和办事能力，真正</tspan><tspan x="68" dy="18.3">从思想上、行动上入党，请党组织不断考验我</tspan><tspan x="68" dy="18.3">，并用高标准严格要求我！我将欣然接受批评</tspan><tspan x="68" dy="18.3">和指正，使自己成为一名合格的共产党员。</tspan></text>
</g>
<g id="p-cz"><rect class="np" x="317" y="4235" width="44" height="32" rx="6"/><text class="t" x="325" y="4256.4">此致</text></g>
<g id="p-jl"><rect class="np" x="303" y="4298" width="58" height="32" rx="6"/><text class="t" x="311" y="4319.4">敬礼！</text></g>
<g id="p-sq"><rect class="np" x="267" y="4361" width="94" height="32" rx="6"/><text class="t" x="275" y="4382.4">申请人：xxx</text></g>
<g id="p-dt"><rect class="np" x="255" y="4425" width="106" height="32" rx="6"/><text class="t" x="263" y="4446.4">2018年x月x日</text></g>

<g id="magenta">
<rect x="1540" y="3355" width="303" height="1630" rx="8" fill="#c2399b"/>
<text class="tw" style="font-size:17.6px" x="1550" y="3382.8"><tspan x="1550" dy="0">2018年大学生预备党员转正申请书</tspan><tspan x="1550" dy="24.5">1600字一年来我加强了思想理论的</tspan><tspan x="1550" dy="24.5">学习，学习了毛泽东思想和中国特</tspan><tspan x="1550" dy="24.5">色社会主义理论，深刻了解了党的</tspan><tspan x="1550" dy="24.5">历史，党的宗旨，党的组织及党员</tspan><tspan x="1550" dy="24.5">的权利义务，关注党的最新动态，</tspan><tspan x="1550" dy="24.5">认真学习党的十九大会议精神，准</tspan><tspan x="1550" dy="24.5">确的把握党的会议精神实质，把思</tspan><tspan x="1550" dy="24.5">想和认识统一到党中央的决策部署</tspan><tspan x="1550" dy="24.5">上来。明确了作为一名预备党员必</tspan><tspan x="1550" dy="24.5">须旗帜鲜明的拥护党的方针政策并</tspan><tspan x="1550" dy="24.5">要带头执行。成为一名预备党员之</tspan><tspan x="1550" dy="24.5">后，自己所做的一切已不仅仅是代</tspan><tspan x="1550" dy="24.5">表个人，而是代表整个组织，要时</tspan><tspan x="1550" dy="24.5">时做好表率于群众面前。二、学习</tspan><tspan x="1550" dy="24.5">方面自从成为一名预备党员以来，</tspan><tspan x="1550" dy="24.5">我在学习上更加严格要求自己，在</tspan><tspan x="1550" dy="24.5">认真学好专业知识的同时也积极地</tspan><tspan x="1550" dy="24.5">参加各种等级考试，在去年一年内</tspan><tspan x="1550" dy="24.5">我先后通过了国家英语四六级考试</tspan><tspan x="1550" dy="24.5">和计算机二级考试，并获得二等奖</tspan><tspan x="1550" dy="24.5">学金。当前，大学生就业问题已成</tspan><tspan x="1550" dy="24.5">为社会焦点，大学生的就业压力与</tspan><tspan x="1550" dy="24.5">日剧增。因此，利用课余时间我也</tspan><tspan x="1550" dy="24.5">积极地关注了这方面，面对这种情</tspan><tspan x="1550" dy="24.5">况，作为一名预备党员应该摆正心</tspan><tspan x="1550" dy="24.5">态，正确认识就业难的现状，要把</tspan><tspan x="1550" dy="24.5">专业知识真正的掌握和理解，并要</tspan><tspan x="1550" dy="24.5">积极地参加社会实践，把理论知识</tspan><tspan x="1550" dy="24.5">与实践联系起来，支持并帮助想创</tspan><tspan x="1550" dy="24.5">业的同学，给他们提供创业信息，</tspan><tspan x="1550" dy="24.5">以创业促进就业。三、学生工作方</tspan><tspan x="1550" dy="24.5">面作为一名学生预备党员，其最直</tspan><tspan x="1550" dy="24.5">接的服务对象就是广大的同学，自</tspan><tspan x="1550" dy="24.5">从成为一名预备党员以来，我感觉</tspan><tspan x="1550" dy="24.5">身上的责任更加的重大了，所以我</tspan><tspan x="1550" dy="24.5">变得更加积极地为同学服务，在传</tspan><tspan x="1550" dy="24.5">达好学校学院的通知要求的同时，</tspan><tspan x="1550" dy="24.5">也经常去各个学生宿舍和同学们聊</tspan><tspan x="1550" dy="24.5">天，帮助同学解决生活学习上遇到</tspan><tspan x="1550" dy="24.5">的一些问题。通过实际的为同学服</tspan><tspan x="1550" dy="24.5">务，我也真正的把握了党全心全意</tspan><tspan x="1550" dy="24.5">为人民服务的宗旨，在为他人服务</tspan><tspan x="1550" dy="24.5">的同时，我自身的素质境界也在不</tspan><tspan x="1550" dy="24.5">断提高，自己也会获得无比大的快</tspan><tspan x="1550" dy="24.5">乐。总之，在过去的一年里，在组</tspan><tspan x="1550" dy="24.5">织的关怀和培养下，我在思想认识</tspan><tspan x="1550" dy="24.5">学习和实际工作方面都有了进步。</tspan><tspan x="1550" dy="24.5">但是，我也深知自己还有很多不足</tspan><tspan x="1550" dy="24.5">之处，距离一个优秀的共产党员的</tspan><tspan x="1550" dy="24.5">标准和要求还有一定的距离，我还</tspan><tspan x="1550" dy="24.5">要继续努力，也请大家继续帮助我</tspan><tspan x="1550" dy="24.5">监督我，使我能够在各个方面取得</tspan><tspan x="1550" dy="24.5">更大的进步。以上是我一年来的基</tspan><tspan x="1550" dy="24.5">本情况，恳请组织和各位同志提出</tspan><tspan x="1550" dy="24.5">宝贵意见，作为一名预备党员，也</tspan><tspan x="1550" dy="24.5">恳请组织批准我按时转正，我将虚</tspan><tspan x="1550" dy="24.5">心接受组织的考验，并以此为起点</tspan><tspan x="1550" dy="24.5">，继续前进！此致敬礼！申请人：</tspan><tspan x="1550" dy="24.5">xxx2018年x月x日推荐阅读：2018</tspan><tspan x="1550" dy="24.5">大学生预备党员转正申请书2000字</tspan><tspan x="1550" dy="24.5">2018大学生预备党员转正申请书范</tspan><tspan x="1550" dy="24.5">文2000字大学生预备党员转正申请</tspan><tspan x="1550" dy="24.5">书2000字大学生预备党员2000字</tspan><tspan x="1550" dy="24.5">转正申请书大学生预备党员转正申</tspan><tspan x="1550" dy="24.5">请书范文2000字</tspan></text>
</g>
<g id="k-m1">
<rect class="nk" x="1871" y="3490" width="300" height="215.3" rx="6"/>
<text class="t" x="1878" y="3511.5"><tspan x="1878" dy="0">一年来我加强了思想理论的学习，学习了毛泽</tspan><tspan x="1878" dy="18.3">东思想和中国特色社会主义理论，深刻了解了</tspan><tspan x="1878" dy="18.3">党的历史，党的宗旨，党的组织及党员的权利</tspan><tspan x="1878" dy="18.3">义务，关注党的最新动态，认真学习党的十九</tspan><tspan x="1878" dy="18.3">大会议精神，准确的把握党的会议精神实质，</tspan><tspan x="1878" dy="18.3">把思想和认识统一到党中央的决策部署上来。</tspan><tspan x="1878" dy="18.3">明确了作为一名预备党员必须旗帜鲜明的拥护</tspan><tspan x="1878" dy="18.3">党的方针政策并要带头执行。成为一名预备党</tspan><tspan x="1878" dy="18.3">员之后，自己所做的一切已不仅仅是代表个人</tspan><tspan x="1878" dy="18.3">，而是代表整个组织，要时时做好表率于群众</tspan><tspan x="1878" dy="18.3">面前。</tspan></text>
</g>
<g id="k-l2"><rect class="nk" x="1869" y="3847" width="102" height="32" rx="6"/><text class="t" x="1877" y="3868.4">二、学习方面</text></g>
<g id="k-m2">
<rect class="nk" x="1998" y="3738" width="300" height="251.9" rx="6"/>
<text class="t" x="2005" y="3759.5"><tspan x="2005" dy="0">自从成为一名预备党员以来，我在学习上更加</tspan><tspan x="2005" dy="18.3">严格要求自己，在认真学好专业知识的同时也</tspan><tspan x="2005" dy="18.3">积极地参加各种等级考试，在去年一年内我先</tspan><tspan x="2005" dy="18.3">后通过了国家英语四六级考试和计算机二级考</tspan><tspan x="2005" dy="18.3">试，并获得二等奖学金。当前，大学生就业问</tspan><tspan x="2005" dy="18.3">题已成为社会焦点，大学生的就业压力与日剧</tspan><tspan x="2005" dy="18.3">增。因此，利用课余时间我也积极地关注了这</tspan><tspan x="2005" dy="18.3">方面，面对这种情况，作为一名预备党员应该</tspan><tspan x="2005" dy="18.3">摆正心态，正确认识就业难的现状，要把专业</tspan><tspan x="2005" dy="18.3">知识真正的掌握和理解，并要积极地参加社会</tspan><tspan x="2005" dy="18.3">实践，把理论知识与实践联系起来，支持并帮</tspan><tspan x="2005" dy="18.3">助想创业的同学，给他们提供创业信息，以创</tspan><tspan x="2005" dy="18.3">业促进就业。</tspan></text>
</g>
<g id="k-l3"><rect class="nk" x="1869" y="4387" width="130" height="32" rx="6"/><text class="t" x="1877" y="4408.4">三、学生工作方面</text></g>
<g id="k-r1">
<rect class="nk" x="2027" y="4021" width="300" height="197" rx="6"/>
<text class="t" x="2034" y="4042.5"><tspan x="2034" dy="0">作为一名学生预备党员，其最直接的服务对象</tspan><tspan x="2034" dy="18.3">就是广大的同学，自从成为一名预备党员以来</tspan><tspan x="2034" dy="18.3">，我感觉身上的责任更加的重大了，所以我变</tspan><tspan x="2034" dy="18.3">得更加积极地为同学服务，在传达好学校学院</tspan><tspan x="2034" dy="18.3">的通知要求的同时，也经常去各个学生宿舍和</tspan><tspan x="2034" dy="18.3">同学们聊天，帮助同学解决生活学习上遇到的</tspan><tspan x="2034" dy="18.3">一些问题。通过实际的为同学服务，我也真正</tspan><tspan x="2034" dy="18.3">的把握了党全心全意为人民服务的宗旨，在为</tspan><tspan x="2034" dy="18.3">他人服务的同时，我自身的素质境界也在不断</tspan><tspan x="2034" dy="18.3">提高，自己也会获得无比大的快乐。</tspan></text>
</g>
<g id="k-r2">
<rect class="nk" x="2027" y="4250" width="300" height="197" rx="6"/>
<text class="t" x="2034" y="4271.5"><tspan x="2034" dy="0">总之，在过去的一年里，在组织的关怀和培养</tspan><tspan x="2034" dy="18.3">下，我在思想认识学习和实际工作方面都有了</tspan><tspan x="2034" dy="18.3">进步。但是，我也深知自己还有很多不足之处</tspan><tspan x="2034" dy="18.3">，距离一个优秀的共产党员的标准和要求还有</tspan><tspan x="2034" dy="18.3">一定的距离，我还要继续努力，也请大家继续</tspan><tspan x="2034" dy="18.3">帮助我监督我，使我能够在各个方面取得更大</tspan><tspan x="2034" dy="18.3">的进步。以上是我一年来的基本情况，恳请组</tspan><tspan x="2034" dy="18.3">织和各位同志提出宝贵意见，作为一名预备党</tspan><tspan x="2034" dy="18.3">员，也恳请组织批准我按时转正，我将虚心接</tspan><tspan x="2034" dy="18.3">受组织的考验，并以此为起点，继续前进！</tspan></text>
</g>
<g id="k-cz"><rect class="nk" x="2027" y="4478" width="44" height="32" rx="6"/><text class="t" x="2035" y="4499.4">此致</text></g>
<g id="k-jl"><rect class="nk" x="2027" y="4541" width="58" height="32" rx="6"/><text class="t" x="2035" y="4562.4">敬礼！</text></g>
<g id="k-sq"><rect class="nk" x="2027" y="4605" width="94" height="32" rx="6"/><text class="t" x="2035" y="4626.4">申请人：xxx</text></g>
<g id="k-dt"><rect class="nk" x="2027" y="4668" width="106" height="32" rx="6"/><text class="t" x="2035" y="4689.4">2018年x月x日</text></g>
<g id="k-tj"><rect class="nk" x="1869" y="4733" width="88" height="32" rx="6"/><text class="t" x="1877" y="4754.4">推荐阅读：</text></g>
</g>
</svg>
